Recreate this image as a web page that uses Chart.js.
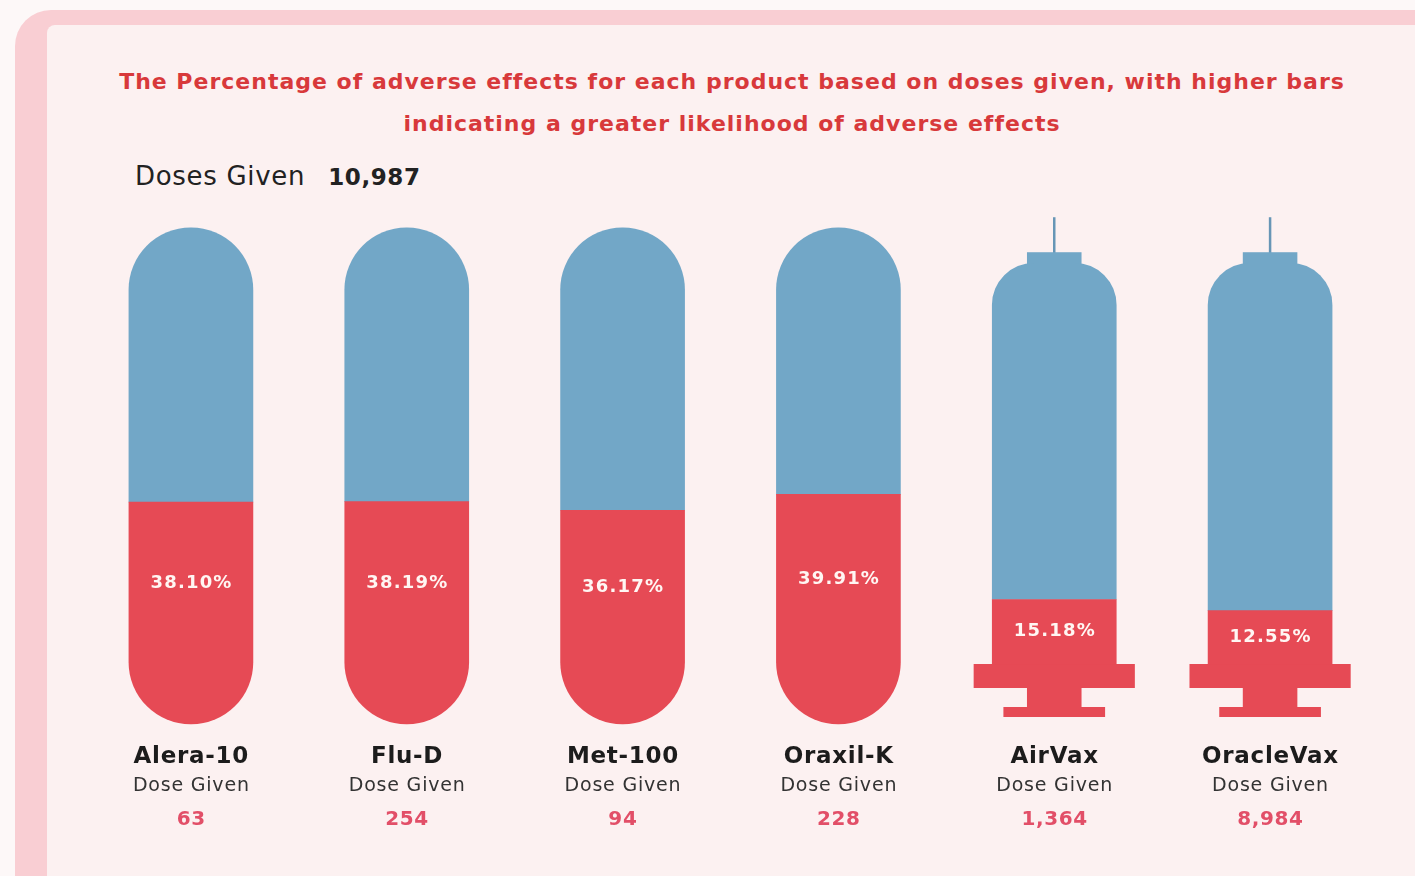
<!DOCTYPE html>
<html>
<head>
<meta charset="utf-8">
<title>Adverse effects by product</title>
<script src="https://cdn.jsdelivr.net/npm/chart.js@4"></script>
<style>
  html, body { margin: 0; padding: 0; }
  body {
    width: 1415px; height: 876px; overflow: hidden; position: relative;
    background: #fdf8f8; font-family: "DejaVu Sans", Verdana, sans-serif;
  }
  .frame {
    position: absolute; left: 15px; top: 10px; width: 1460px; height: 920px;
    background: #f9ced3; border-radius: 36px;
  }
  .card {
    position: absolute; left: 47px; top: 25px; width: 1420px; height: 900px;
    background: #fcf1f1; border-radius: 8px;
  }
  .title {
    position: absolute; left: 0; top: 61px; width: 1464px; text-align: center;
    color: #d8393b; font-weight: bold; font-size: 22px; letter-spacing: 1px; line-height: 42px;
  }
  .total {
    position: absolute; left: 135px; top: 161px; font-size: 26px; letter-spacing: 0.7px; color: #222;
  }
  .total b { margin-left: 23px; font-size: 23px; letter-spacing: 0.6px; }
  #wrap { position: absolute; left: 0; top: 0; width: 1415px; height: 876px; }
</style>
</head>
<body>
<div class="frame"></div>
<div class="card"></div>
<div class="title">The Percentage of adverse effects for each product based on doses given, with higher bars<br>indicating a greater likelihood of adverse effects</div>
<div class="total">Doses Given<b id="total"></b></div>
<div id="wrap"><canvas id="chart"></canvas></div>

<script>
// product data
const products = ['Alera-10', 'Flu-D', 'Met-100', 'Oraxil-K', 'AirVax', 'OracleVax'];
const adversePct = [38.10, 38.19, 36.17, 39.91, 15.18, 12.55];
const dosesGiven = [63, 254, 94, 228, 1364, 8984];
const packaging = ['capsule', 'capsule', 'capsule', 'capsule', 'syringe', 'syringe'];

// shape extents on the percent scale
const CAPSULE_BOTTOM = -14.1;
const CAPSULE_TOP = 102.6;
const SYRINGE_TOP = 94.3;

const BLUE = '#72a7c7';
const RED = '#e64a55';

const fmt = n => n.toLocaleString('en-US');
document.querySelector('#total').textContent = fmt(dosesGiven.reduce((a, b) => a + b, 0));

const isCapsule = i => packaging[i] === 'capsule';

const filled = adversePct.map((p, i) => [isCapsule(i) ? CAPSULE_BOTTOM : 0, p]);
const empty = adversePct.map((p, i) => [p, isCapsule(i) ? CAPSULE_TOP : SYRINGE_TOP]);

// syringe needle, cap, flange and plunger around the body bars
const syringeParts = {
    id: 'syringeParts',
    beforeDatasetsDraw(chart) {
        const ctx = chart.ctx;
        const y = chart.scales.y;
        const bars = chart.getDatasetMeta(0).data;
        const zero = y.getPixelForValue(0);
        const top = y.getPixelForValue(SYRINGE_TOP);
        ctx.save();
        bars.forEach((bar, i) => {
            if (isCapsule(i)) return;
            const x = bar.x;
            const w = bar.width;
            // needle and cap
            ctx.strokeStyle = '#6796b6';
            ctx.lineWidth = 2.5;
            ctx.beginPath();
            ctx.moveTo(x, top - 46);
            ctx.lineTo(x, top - 8);
            ctx.stroke();
            ctx.fillStyle = BLUE;
            ctx.fillRect(x - w * 0.22, top - 11, w * 0.44, 14);
            // flange, stem and plunger
            ctx.fillStyle = RED;
            ctx.fillRect(x - w * 0.65, zero, w * 1.3, 24);
            ctx.fillRect(x - w * 0.22, zero + 23, w * 0.44, 21);
            ctx.fillRect(x - w * 0.41, zero + 43, w * 0.82, 10);
        });
        ctx.restore();
    }
};

// centred text with extra tracking
const spaced = (ctx, text, x, y, spacing) => {
    ctx.letterSpacing = spacing + 'px';
    ctx.fillText(text, x + spacing / 2, y);
    ctx.letterSpacing = '0px';
};

// percent inside the red part, product name and doses under each shape
const labels = {
    id: 'labels',
    afterDatasetsDraw(chart) {
        const ctx = chart.ctx;
        const y = chart.scales.y;
        const x = chart.scales.x;
        const zero = y.getPixelForValue(0);
        ctx.save();
        ctx.textAlign = 'center';
        ctx.textBaseline = 'middle';
        adversePct.forEach((p, i) => {
            const cx = x.getPixelForValue(i);
            ctx.fillStyle = '#fff6f3';
            ctx.font = 'bold 18px "DejaVu Sans"';
            spaced(ctx, p.toFixed(2) + '%', cx, (zero + y.getPixelForValue(p)) / 2, 1.2);

            ctx.fillStyle = '#1c1c1c';
            ctx.font = 'bold 23px "DejaVu Sans"';
            spaced(ctx, products[i], cx, zero + 93, 0.7);
            ctx.fillStyle = '#333';
            ctx.font = '19px "DejaVu Sans"';
            spaced(ctx, 'Dose Given', cx, zero + 122, 0.8);
            ctx.fillStyle = '#e24f68';
            ctx.font = 'bold 20px "DejaVu Sans"';
            spaced(ctx, fmt(dosesGiven[i]), cx, zero + 156, 0.6);
        });
        ctx.restore();
    }
};

new Chart(document.querySelector('#chart'), {
    type: 'bar',
    data: {
        labels: products,
        datasets: [
            {
                label: 'Adverse effects',
                data: filled,
                backgroundColor: RED,
                grouped: false,
                borderSkipped: false,
                barThickness: 124,
                borderRadius: ctx => isCapsule(ctx.dataIndex)
                    ? { topLeft: 0, topRight: 0, bottomLeft: 62, bottomRight: 62 }
                    : 0
            },
            {
                label: 'No adverse effects',
                data: empty,
                backgroundColor: BLUE,
                grouped: false,
                borderSkipped: false,
                barThickness: 124,
                borderRadius: ctx => isCapsule(ctx.dataIndex)
                    ? { topLeft: 62, topRight: 62, bottomLeft: 0, bottomRight: 0 }
                    : { topLeft: 42, topRight: 42, bottomLeft: 0, bottomRight: 0 }
            }
        ]
    },
    options: {
        responsive: true,
        maintainAspectRatio: false,
        animation: false,
        layout: {
            padding: { left: 83, right: 37, top: 196.5, bottom: 127 }
        },
        scales: {
            x: { display: false },
            y: { display: false, min: -20, max: 110 }
        },
        plugins: {
            legend: { display: false },
            tooltip: { enabled: false }
        }
    },
    plugins: [syringeParts, labels]
});
</script>
</body>
</html>
